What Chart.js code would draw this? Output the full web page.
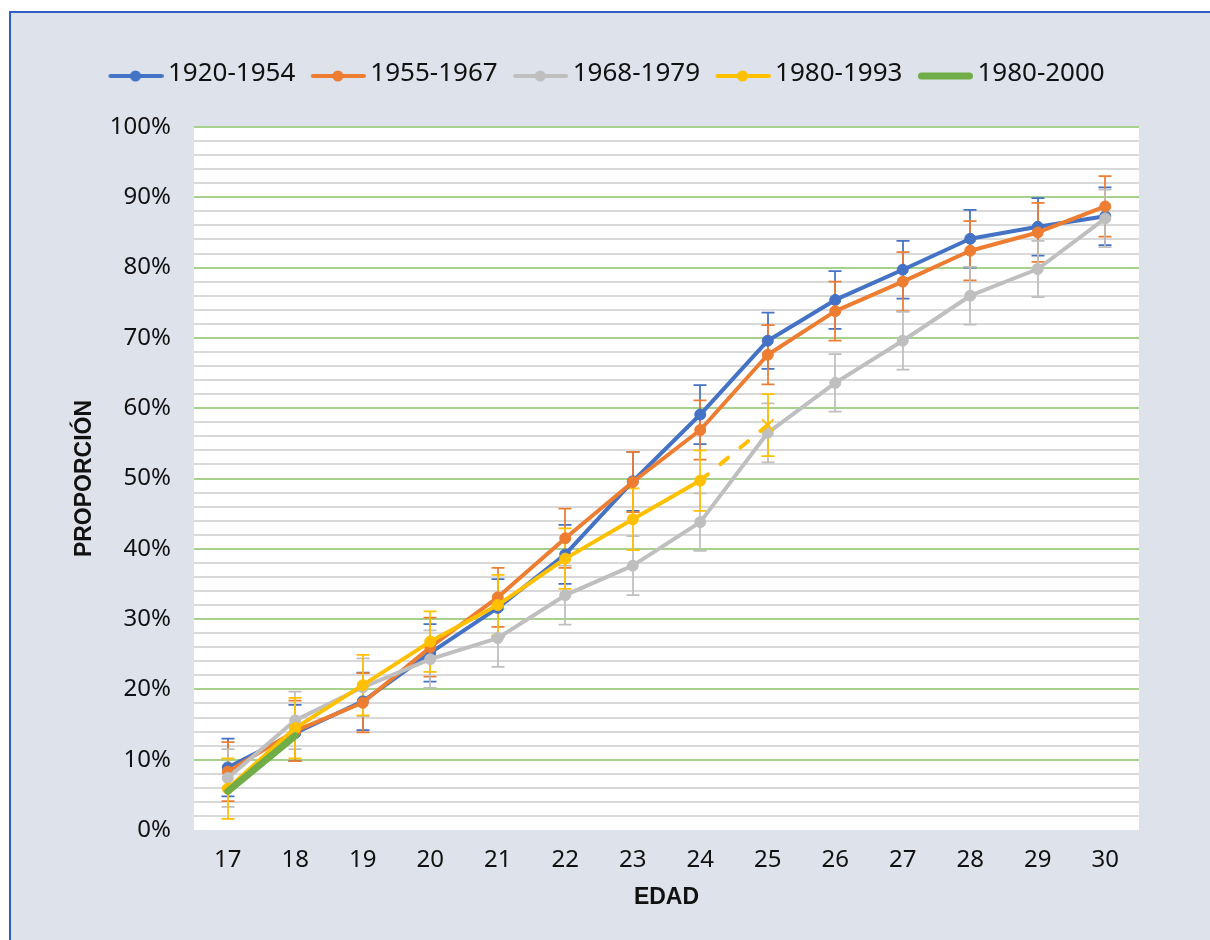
<!DOCTYPE html>
<html><head><meta charset="utf-8">
<script src="https://cdn.jsdelivr.net/npm/chart.js@4.4.1/dist/chart.umd.min.js"></script>
<style>
html,body{margin:0;padding:0;background:#fff;width:1210px;height:940px;overflow:hidden}
#frame{position:absolute;left:9px;top:11px;width:1201px;height:929px;box-sizing:border-box;border-top:2px solid #2F5FC4;border-left:2px solid #2F5FC4;background:#DEE2EB}
#c{position:absolute;left:0;top:0}
</style></head><body>
<div id="frame"><canvas id="c" width="1199" height="927"></canvas></div>
<script>
// ---- data ----
const ages = ['17','18','19','20','21','22','23','24','25','26','27','28','29','30'];
const seriesNames = ['1920-1954','1955-1967','1968-1979','1980-1993','1980-2000'];
const serie1920_1954 = [8.9, 13.8, 18.3, 25.2, 31.6, 39.2, 49.6, 59.1, 69.6, 75.4, 79.7, 84.1, 85.8, 87.3];
const serie1955_1967 = [8.3, 14.1, 18.1, 26.0, 33.1, 41.5, 49.5, 56.9, 67.6, 73.8, 78.0, 82.4, 85.0, 88.7];
const serie1968_1979 = [7.4, 15.6, 20.3, 24.3, 27.3, 33.4, 37.6, 43.8, 56.5, 63.6, 69.6, 76.0, 79.8, 87.0];
const serie1980_1993 = [5.9, 14.5, 20.6, 26.8, 32.0, 38.6, 44.2, 49.7, 57.6, null, null, null, null, null];
const serie1980_2000 = [5.5, 13.4, null, null, null, null, null, null, null, null, null, null, null, null];
const err1920_1954 = [4.1, 4.0, 4.1, 4.1, 4.1, 4.2, 4.2, 4.2, 4.0, 4.1, 4.1, 4.1, 4.1, 4.1];
const err1955_1967 = [4.2, 4.3, 4.2, 4.2, 4.2, 4.2, 4.3, 4.2, 4.2, 4.2, 4.2, 4.2, 4.2, 4.3];
const err1968_1979 = [4.1, 4.1, 4.1, 4.1, 4.1, 4.2, 4.2, 4.1, 4.2, 4.1, 4.1, 4.1, 4.0, 4.1];
const err1980_1993 = [4.3, 4.3, 4.3, 4.3, 4.3, 4.3, 4.4, 4.3, 4.4, null, null, null, null, null];
const yTickStep = 2;
const yMajorStep = 10;

const colors = ['#4472C4', '#ED7D31', '#BFBFBF', '#FFC000', '#70AD47'];

// ---- legend icons ----
function makeIcon(color, lw, dot) {
  const c = document.createElement('canvas');
  c.width = 64; c.height = 22;
  const g = c.getContext('2d');
  g.strokeStyle = color; g.lineWidth = lw; g.lineCap = 'round';
  g.beginPath(); g.moveTo(9 + lw / 2, 13); g.lineTo(64 - lw / 2, 13); g.stroke();
  if (dot) { g.fillStyle = color; g.beginPath(); g.arc(36, 13, 5.5, 0, Math.PI * 2); g.fill(); }
  return c;
}
const legendIcons = [makeIcon(colors[0], 4, true), makeIcon(colors[1], 4, true), makeIcon(colors[2], 4, true), makeIcon(colors[3], 4, true), makeIcon(colors[4], 7, false)];

const errorSets = [err1920_1954, err1955_1967, err1968_1979, err1980_1993, null];

const plotBackground = {
  id: 'plotBackground',
  beforeDraw(chart) {
    const {ctx, chartArea: a} = chart;
    ctx.save();
    ctx.fillStyle = '#FFFFFF';
    ctx.fillRect(a.left, a.top - 1, a.right - a.left, a.bottom - a.top + 1);
    ctx.restore();
  }
};

const errorBars = {
  id: 'errorBars',
  beforeDatasetsDraw(chart) {
    const {ctx, scales: {x, y}} = chart;
    ctx.save();
    chart.data.datasets.forEach((ds, i) => {
      const errs = errorSets[i];
      if (!errs) return;
      ctx.strokeStyle = colors[i];
      ctx.lineWidth = 1.75;
      ds.data.forEach((v, j) => {
        if (v === null || errs[j] === null) return;
        const px = Math.round(x.getPixelForValue(j));
        const top = y.getPixelForValue(v + errs[j]);
        const bot = y.getPixelForValue(v - errs[j]);
        ctx.beginPath();
        ctx.moveTo(px, top); ctx.lineTo(px, bot);
        ctx.moveTo(px - 6.5, top); ctx.lineTo(px + 6.5, top);
        ctx.moveTo(px - 6.5, bot); ctx.lineTo(px + 6.5, bot);
        ctx.stroke();
      });
    });
    ctx.restore();
  }
};

const LEGEND_TOP = 33, CHART_TOP = 114, CHART_LEFT = 183, CHART_BOTTOM = 817, LEGEND_FIRST_X = 97;
const legendFix = {
  id: 'legendFix',
  beforeInit(chart) {
    const lg = chart.legend;
    const origFit = lg.fit.bind(lg);
    lg.fit = function () { origFit(); this.height = CHART_TOP - LEGEND_TOP; };
  },
  afterLayout(chart) {
    const lg = chart.legend;
    const p = lg.options.labels.padding;
    const cur = (lg.left + p + lg.right - lg.lineWidths[0]) / 2;
    const shift = LEGEND_FIRST_X - cur;
    lg.left += shift; lg.right += shift;
  }
};

function lineDs(label, data, i, order) {
  return {
    label, data, order,
    borderColor: colors[i], backgroundColor: colors[i],
    borderWidth: 4, borderCapStyle: 'round', borderJoinStyle: 'round',
    pointRadius: 5.5, pointHoverRadius: 5.5, pointBorderWidth: 1,
    pointBackgroundColor: colors[i], pointBorderColor: colors[i],
    spanGaps: false, tension: 0
  };
}

const dsYellow = lineDs(seriesNames[3], serie1980_1993, 3, 2);
dsYellow.pointStyle = (ctx) => ctx.dataIndex === 8 ? 'crossRot' : 'circle';
dsYellow.pointRadius = (ctx) => ctx.dataIndex === 8 ? 8 : 5.5;
dsYellow.pointBorderWidth = (ctx) => ctx.dataIndex === 8 ? 2 : 1;
dsYellow.segment = { borderDash: (ctx) => ctx.p1DataIndex === 8 ? [10, 16] : undefined };

const dsGreen = lineDs(seriesNames[4], serie1980_2000, 4, 1);
dsGreen.borderWidth = 7;
dsGreen.pointRadius = 0;

new Chart(document.getElementById('c'), {
  type: 'line',
  data: {
    labels: ages,
    datasets: [
      lineDs(seriesNames[0], serie1920_1954, 0, 5),
      lineDs(seriesNames[1], serie1955_1967, 1, 4),
      lineDs(seriesNames[2], serie1968_1979, 2, 3),
      dsYellow,
      dsGreen
    ]
  },
  options: {
    responsive: false,
    animation: false,
    events: [],
    layout: { padding: { top: LEGEND_TOP, right: 1199 - 1128, bottom: 0, left: 0 } },
    plugins: {
      tooltip: { enabled: false },
      legend: {
        position: 'top',
        labels: {
          usePointStyle: true,
          pointStyleWidth: 47,
          padding: 15,
          color: '#111',
          font: { family: 'Noto Sans', size: 26 },
          sort: (a, b) => a.datasetIndex - b.datasetIndex,
          generateLabels(chart) {
            const items = Chart.defaults.plugins.legend.labels.generateLabels(chart);
            items.forEach(it => { it.pointStyle = legendIcons[it.datasetIndex]; });
            return items;
          }
        }
      }
    },
    scales: {
      x: {
        type: 'category',
        offset: true,
        grid: { display: false, drawTicks: false },
        border: { display: false },
        ticks: { color: '#111', font: { family: 'Noto Sans', size: 24 }, padding: 16, maxRotation: 0, autoSkip: false },
        title: { display: true, text: 'EDAD', color: '#111', font: { family: 'Liberation Sans', size: 23, weight: 'bold' }, padding: { top: 0, bottom: 29 } },
        afterFit(scale) { scale.height = 927 - CHART_BOTTOM; }
      },
      y: {
        min: 0, max: 100,
        grid: {
          drawTicks: false,
          lineWidth: 2,
          color: (ctx) => {
            const v = Math.round(ctx.tick.value);
            if (v === 0) return 'rgba(0,0,0,0)';
            return v % yMajorStep === 0 ? '#A9D18E' : '#D9D9D9';
          }
        },
        border: { display: false },
        ticks: {
          stepSize: yTickStep,
          autoSkip: false,
          padding: 23,
          color: '#111',
          font: { family: 'Noto Sans', size: 24 },
          callback: (v) => Math.round(v) % yMajorStep === 0 ? Math.round(v) + '%' : ''
        },
        title: { display: true, text: 'PROPORCIÓN', color: '#111', font: { family: 'Liberation Sans', size: 23, weight: 'bold' }, padding: { top: 60, bottom: 0 } },
        afterFit(scale) { scale.width = CHART_LEFT; }
      }
    }
  },
  plugins: [plotBackground, errorBars, legendFix]
});
</script>
</body></html>
